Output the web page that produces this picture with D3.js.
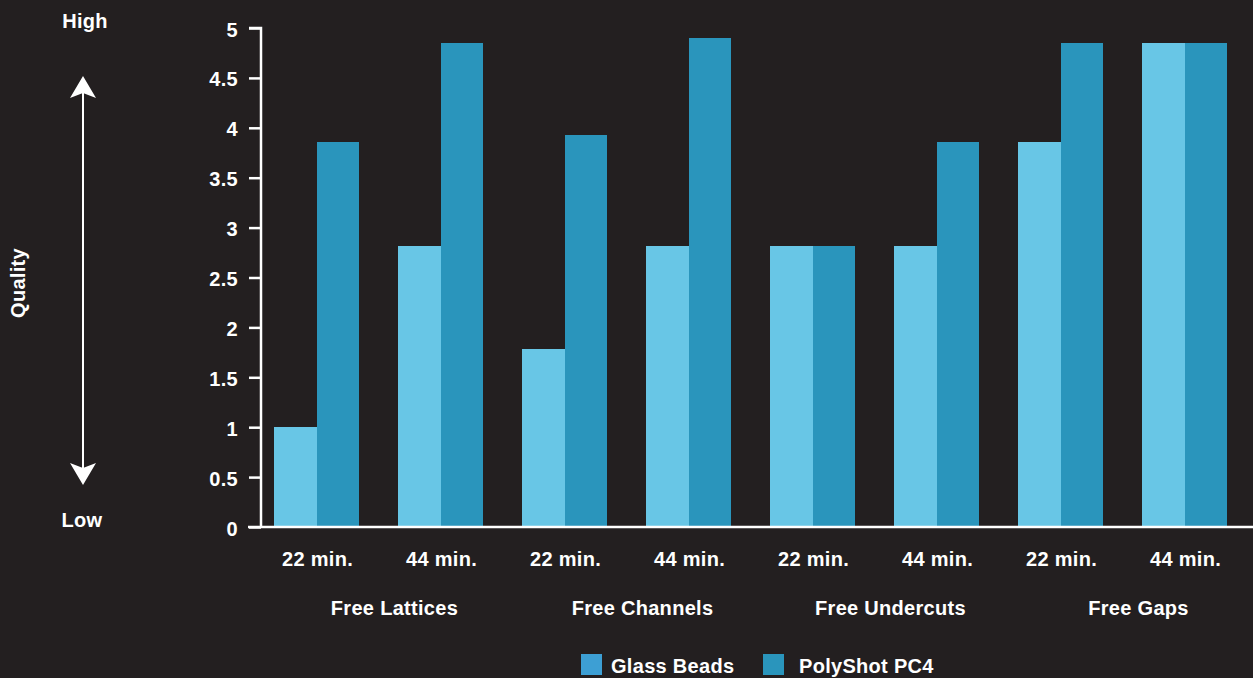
<!DOCTYPE html>
<html>
<head>
<meta charset="utf-8">
<script src="https://cdn.jsdelivr.net/npm/d3@7"></script>
<style>
  html, body { margin: 0; padding: 0; background: #231f20; }
  svg { display: block; }
  text { font-family: "Liberation Sans", Arial, Helvetica, sans-serif; font-weight: bold; fill: #ffffff; letter-spacing: 0.3px; }
</style>
</head>
<body>
<svg id="chart" width="1253" height="678"></svg>
<script>
// Finishing time per run, grouped by blasting goal
const durations = ["22 min.", "44 min.", "22 min.", "44 min.", "22 min.", "44 min.", "22 min.", "44 min."];
const groups = ["Free Lattices", "Free Channels", "Free Undercuts", "Free Gaps"];
const seriesNames = ["Glass Beads", "PolyShot PC4"];
const glassBeads = [1.0, 2.82, 1.78, 2.82, 2.82, 2.82, 3.86, 4.85];
const polyShot = [3.86, 4.85, 3.93, 4.90, 2.82, 3.86, 4.85, 4.85];
const yTicks = [0, 0.5, 1, 1.5, 2, 2.5, 3, 3.5, 4, 4.5, 5];

const barColors = ["#68c6e6", "#2a95bc"];
const legendColors = ["#3d9fd4", "#2a95bc"];

const svg = d3.select("#chart");
const W = 1253, H = 678;

const slots = durations.map((d, i) => i);
const x = d3.scaleBand().domain(slots).range([254.5, 1246.5]).paddingInner(0).paddingOuter(0);
const y = d3.scaleLinear().domain([0, 5]).range([527, 28]);
const barW = 42.5;

const rows = slots.map(i => ({ i, values: [glassBeads[i], polyShot[i]] }));

// Bars
const g = svg.append("g").attr("shape-rendering", "crispEdges");
rows.forEach(r => {
  const cx = x(r.i) + x.bandwidth() / 2;
  r.values.forEach((v, k) => {
    g.append("rect")
      .attr("x", cx - barW + k * barW)
      .attr("y", y(v))
      .attr("width", barW)
      .attr("height", y(0) - y(v))
      .attr("fill", barColors[k]);
  });
});

// Y axis
const yAxis = d3.axisLeft(y).tickValues(yTicks).tickFormat(d3.format("~g")).tickSize(12).tickPadding(11);
const ya = svg.append("g").attr("transform", "translate(261,0)").call(yAxis);
ya.select(".domain").attr("stroke", "#fff").attr("stroke-width", 2.5).attr("d", "M-12,28H0V527");
ya.selectAll(".tick line").attr("stroke", "#fff").attr("stroke-width", 2.5);
ya.selectAll(".tick text").attr("font-size", 20).attr("fill", "#fff").attr("dy", "0.4em")
  .style("font-family", "'Liberation Sans', Arial, sans-serif").style("font-weight", "bold");

// X baseline
svg.append("line").attr("x1", 248).attr("x2", W).attr("y1", y(0)).attr("y2", y(0))
  .attr("stroke", "#fff").attr("stroke-width", 2.5);

// Duration labels
svg.selectAll(".dur").data(durations).join("text")
  .attr("class", "dur")
  .attr("x", (d, i) => x(i) + x.bandwidth() / 2 + 1)
  .attr("y", 566)
  .attr("text-anchor", "middle")
  .attr("font-size", 20)
  .text(d => d);

// Group labels
svg.selectAll(".grp").data(groups).join("text")
  .attr("class", "grp")
  .attr("x", (d, j) => x(2 * j) + x.bandwidth() + 16)
  .attr("y", 615)
  .attr("text-anchor", "middle")
  .attr("font-size", 20)
  .text(d => d);

// Quality scale on the left
svg.append("text").attr("x", 85).attr("y", 28).attr("text-anchor", "middle").attr("font-size", 20).text("High");
svg.append("text").attr("x", 82).attr("y", 527).attr("text-anchor", "middle").attr("font-size", 20).text("Low");
svg.append("text")
  .attr("transform", "translate(25,283) rotate(-90)")
  .attr("text-anchor", "middle").attr("font-size", 20).text("Quality");

svg.append("line").attr("x1", 83).attr("x2", 83).attr("y1", 92).attr("y2", 470)
  .attr("stroke", "#fff").attr("stroke-width", 2);
// Arrow heads
svg.append("path").attr("fill", "#fff")
  .attr("d", "M83,76 L96,98 L83,93 L70,98 Z");
svg.append("path").attr("fill", "#fff")
  .attr("d", "M83,485 L96,463 L83,468 L70,463 Z");

// Legend
const legend = svg.append("g");
const legendX = [581, 763];
seriesNames.forEach((name, k) => {
  legend.append("rect").attr("x", legendX[k]).attr("y", 654).attr("width", 21).attr("height", 21)
    .attr("fill", legendColors[k]);
  legend.append("text").attr("x", legendX[k] + (k === 0 ? 30 : 36)).attr("y", 673)
    .attr("font-size", 20).text(name);
});
</script>
</body>
</html>
